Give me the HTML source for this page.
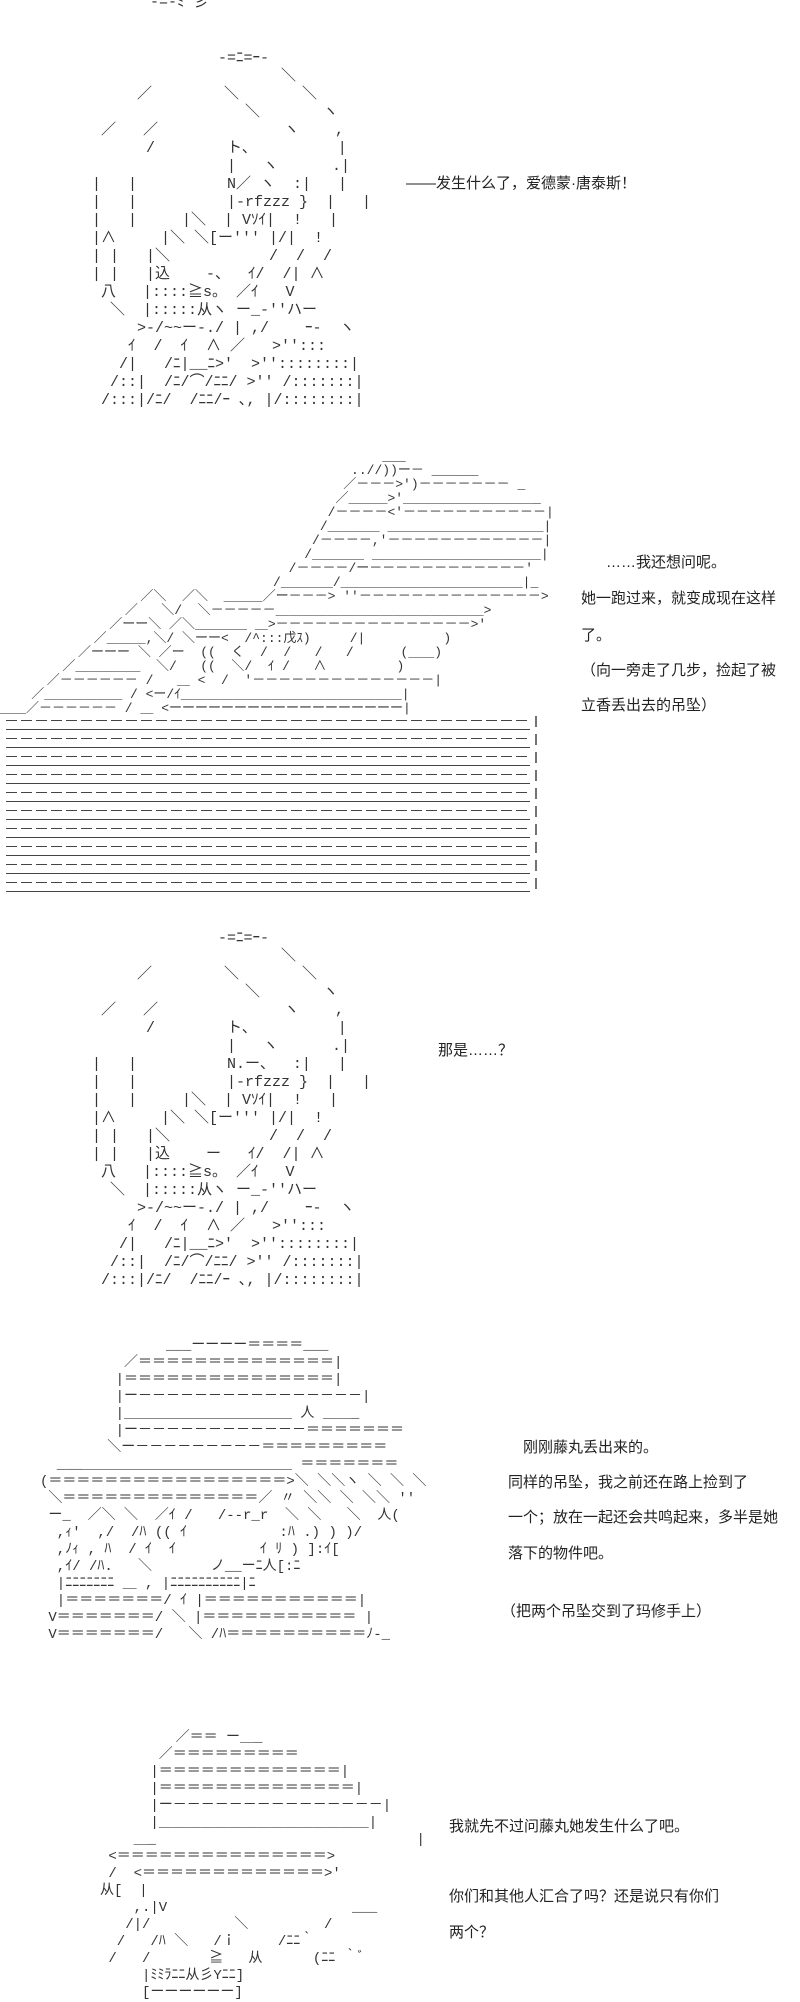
<!DOCTYPE html>
<html><head><meta charset="utf-8">
<style>
html,body{margin:0;padding:0;background:#fff;}
body{width:800px;height:2000px;position:relative;overflow:hidden;}
pre{position:absolute;margin:0;font-family:"Liberation Mono","Noto Sans CJK JP",monospace;font-size:15px;line-height:18px;color:#333;white-space:pre;}
.t{position:absolute;font-family:"Liberation Sans","Noto Sans CJK SC",sans-serif;font-size:15px;color:#222;white-space:nowrap;}
</style></head><body>

<pre style="left:150px;top:-6px;">-=-ﾐ 彡</pre>

<pre style="left:92px;top:50px;">              -=ﾆ=ｰ-
                     ＼
     ／        ＼       ＼
                 ＼       ヽ
 ／   ／              ヽ    ,
      /        ト、         |
               |   ヽ      .|
|   |          N／ ヽ  :|   |
|   |          |-rfzzz }  |   |
|   |     |＼  | Vｿｲ|  !   |
|∧     |＼ ＼[ー''' |/|  !
| |   |＼           /  /  /
| |   |込    -、  ｲ/  /| ∧
 八   |::::≧s。 ／ｲ   V
  ＼  |:::::从ヽ ー_-''ハー
     >-/~~ー-./ | ,/    ｰ-  ヽ
    ｲ  /  ｲ  ∧ ／   >'':::
   /|   /ﾆ|__ﾆ>'  >''::::::::|
  /::|  /ﾆ/⌒/ﾆﾆ/ >'' /:::::::|
 /:::|/ﾆ/  /ﾆﾆ/ｰ ､, |/::::::::|</pre>

<div class="t" style="left:406px;top:172px;">——发生什么了，爱德蒙·唐泰斯！</div>

<pre style="left:0px;top:450px;line-height:14px;font-size:13px;">                                                 ___
                                             ..//))ー－ ______
                                            ／－－－>')－－－－－－－ _
                                           ／＿＿＿>'＿＿＿＿＿＿＿＿＿＿_
                                          /－－－－<'－－－－－－－－－－－|
                                         /＿＿＿＿ ＿＿＿＿＿＿＿＿＿＿＿＿|
                                        /－－－－,'－－－－－－－－－－－－|
                                       /＿＿＿＿ ＿＿＿＿＿＿＿＿＿＿＿＿＿|
                                     /－－－－/ー－－－－－－－－－－－－'
                                   /＿＿＿＿/＿＿＿＿＿＿＿＿＿＿＿＿＿＿|_
                  ／＼  ／＼  ＿＿＿／ー－－－> ''－－－－－－－－－－－－－－>
                ／   ＼/  ＼－－－－－＿＿＿＿＿＿＿＿＿＿＿＿＿＿＿＿>
              ／ーー＼ ／＼＿＿＿＿ ＿>－－－－－－－－－－－－－－－>'
            ／＿＿＿,＼/ ＼ーー<  /^:::戊ｽ)     /|          )
          ／ーーー ＼ ／ー  ((  く  /  /   /   /      (＿＿)
        ／＿＿＿＿＿  ＼/   ((  ＼/  ｲ /   ∧         )
      ／－－－－－－ /   ＿ <  /  '－－－－－－－－－－－－－－|
    ／＿＿＿＿＿＿ / <ー/ｲ＿＿＿＿＿＿＿＿＿＿＿＿＿＿＿＿＿|
＿＿／－－－－－－ / ＿ <ーーーーーーーーーーーーーーーーーー|</pre>

<svg style="position:absolute;left:0;top:716px" width="545" height="180">
<defs><pattern id="p" width="545" height="18" patternUnits="userSpaceOnUse">
<line x1="6" y1="4.5" x2="530" y2="4.5" stroke="#444" stroke-width="1" stroke-dasharray="11 4"/>
<line x1="6" y1="13.5" x2="530" y2="13.5" stroke="#444" stroke-width="1"/>
<line x1="536" y1="0" x2="536" y2="11" stroke="#444" stroke-width="1.5"/>
</pattern></defs>
<rect x="0" y="0" width="545" height="180" fill="url(#p)"/>
</svg>

<div class="t" style="left:606px;top:551px;">……我还想问呢。</div>
<div class="t" style="left:581px;top:587px;">她一跑过来，就变成现在这样</div>
<div class="t" style="left:581px;top:624px;">了。</div>
<div class="t" style="left:581px;top:659px;">（向一旁走了几步，捡起了被</div>
<div class="t" style="left:581px;top:694px;">立香丢出去的吊坠）</div>

<pre style="left:92px;top:930px;">              -=ﾆ=ｰ-
                     ＼
     ／        ＼       ＼
                 ＼       ヽ
 ／   ／              ヽ    ,
      /        ト、         |
               |   ヽ      .|
|   |          N.ー、  :|   |
|   |          |-rfzzz }  |   |
|   |     |＼  | Vｿｲ|  !   |
|∧     |＼ ＼[ー''' |/|  !
| |   |＼           /  /  /
| |   |込    ー   ｲ/  /| ∧
 八   |::::≧s。 ／ｲ   V
  ＼  |:::::从ヽ ー_-''ハー
     >-/~~ー-./ | ,/    ｰ-  ヽ
    ｲ  /  ｲ  ∧ ／   >'':::
   /|   /ﾆ|__ﾆ>'  >''::::::::|
  /::|  /ﾆ/⌒/ﾆﾆ/ >'' /:::::::|
 /:::|/ﾆ/  /ﾆﾆ/ｰ ､, |/::::::::|</pre>

<div class="t" style="left:438px;top:1039px;">那是……？</div>

<pre style="left:40px;top:1338px;line-height:17px;font-size:14px;">               ___ーーーー＝＝＝＝___
          ／＝＝＝＝＝＝＝＝＝＝＝＝＝＝|
         |＝＝＝＝＝＝＝＝＝＝＝＝＝＝＝|
         |ー－－－－－－－－－－－－－－－－|
         |＿＿＿＿＿＿＿＿＿＿＿＿ 人 ＿＿_
         |ー－－－－－－－－－－－－＝＝＝＝＝＝＝
        ＼ー－－－－－－－－－＝＝＝＝＝＝＝＝＝
  ___＿＿＿＿＿＿＿＿＿＿＿＿＿＿＿ ＝＝＝＝＝＝＝
(＝＝＝＝＝＝＝＝＝＝＝＝＝＝＝＝＝>＼ ＼＼ヽ ＼ ＼ ＼
 ＼＝＝＝＝＝＝＝＝＝＝＝＝＝＝／ 〃 ＼＼ ＼ ＼＼ ''
 ー_  ／＼ ＼  ／ｲ /   /--r_r  ＼ ＼   ＼  人(
  ,ｨ'  ,/  /ﾊ (( ｲ           :ﾊ .) ) )/
  ,ﾉｨ , ﾊ  / ｲ  ｲ          ｲ ﾘ ) ]:ｲ[
  ,ｲ/ /ﾊ.   ＼       ノ__ーﾆ人[:ﾆ
  |ﾆﾆﾆﾆﾆﾆﾆ ＿ , |ﾆﾆﾆﾆﾆﾆﾆﾆﾆﾆ|ﾆ
  |＝＝＝＝＝＝＝/ ｲ |＝＝＝＝＝＝＝＝＝＝＝|
 V＝＝＝＝＝＝＝/ ＼ |＝＝＝＝＝＝＝＝＝＝＝ |
 V＝＝＝＝＝＝＝/   ＼ /ﾊ＝＝＝＝＝＝＝＝＝＝ﾉ-_</pre>

<div class="t" style="left:523px;top:1436px;">刚刚藤丸丢出来的。</div>
<div class="t" style="left:508px;top:1471px;">同样的吊坠，我之前还在路上捡到了</div>
<div class="t" style="left:508px;top:1506px;">一个；放在一起还会共鸣起来，多半是她</div>
<div class="t" style="left:508px;top:1542px;">落下的物件吧。</div>
<div class="t" style="left:501px;top:1600px;">（把两个吊坠交到了玛修手上）</div>

<pre style="left:100px;top:1730px;line-height:17px;font-size:14px;">         ／＝＝ ー＿_
       ／＝＝＝＝＝＝＝＝＝
      |＝＝＝＝＝＝＝＝＝＝＝＝＝|
      |＝＝＝＝＝＝＝＝＝＝＝＝＝＝|
      |ー－－－－－－－－－－－－－－－|
      |＿＿＿＿＿＿＿＿＿＿＿＿＿＿＿|
    ＿_                               |
 <＝＝＝＝＝＝＝＝＝＝＝＝＝＝＝>
 /  <＝＝＝＝＝＝＝＝＝＝＝＝＝>'
从[  |
    ,.|V                      ___
   /|/          ＼         /
  /   /ﾊ ＼   /ｉ     /ﾆﾆ｀
 /   /       ≧   从      (ﾆﾆ ｀ﾞ
     |ﾐﾐﾗﾆﾆ从彡Yﾆﾆ]
     [ーーーーーー]</pre>

<div class="t" style="left:449px;top:1815px;">我就先不过问藤丸她发生什么了吧。</div>
<div class="t" style="left:449px;top:1885px;">你们和其他人汇合了吗？还是说只有你们</div>
<div class="t" style="left:449px;top:1921px;">两个？</div>

</body></html>
